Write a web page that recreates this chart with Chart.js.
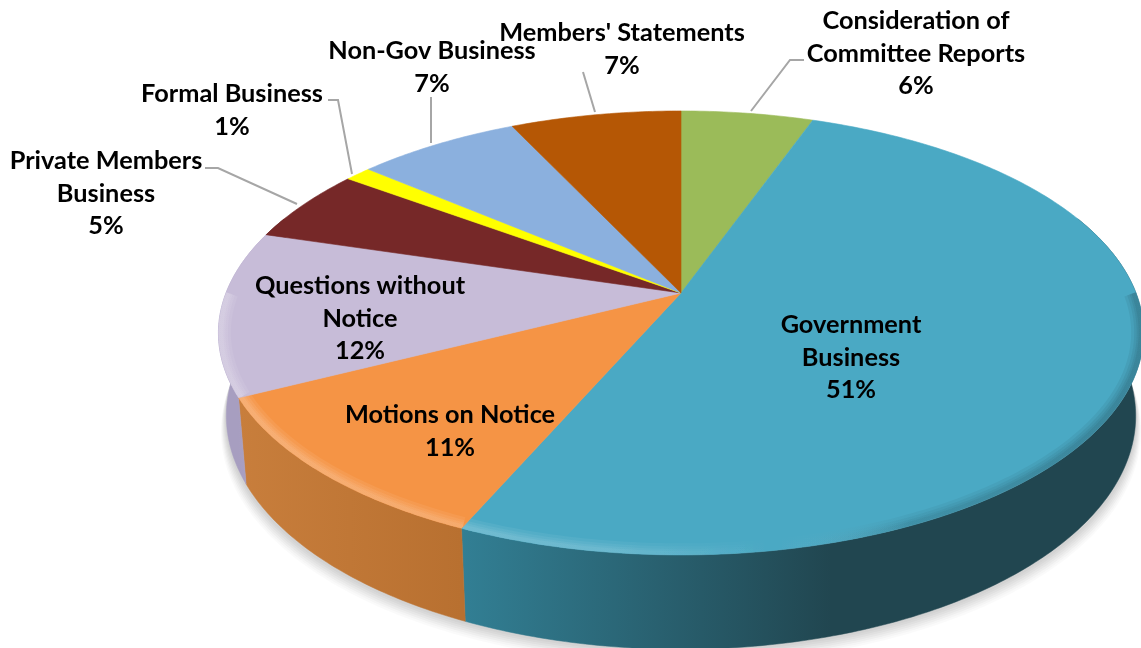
<!DOCTYPE html>
<html><head><meta charset="utf-8">
<style>html,body{margin:0;padding:0;background:#fff;overflow:hidden}canvas{display:block}</style>
<script src="https://cdn.jsdelivr.net/npm/chart.js@4"></script>
</head><body><canvas id="c" width="1141" height="648"></canvas>
<script>
const categories = ["Consideration of Committee Reports","Government Business","Motions on Notice","Questions without Notice","Private Members Business","Formal Business","Non-Gov Business","Members' Statements"];
const shares = [5.5,51.1,11,12,5.4,1.1,6.8,7.1];
const topColors = ["#9BBB59","#4AA9C4","#F59445","#C7BCD8","#762828","#FFFF00","#8BB0DE","#B55705"];
const wallStops = [["#7d984a","#7d984a"],["#327F94","#214650"],["#C87E3C","#B87030"],["#A79EC0","#ADA3C6"],["#5a2020","#5a2020"],["#cc0","#cc0"],["#7090b0","#7090b0"],["#8c4404","#8c4404"]];
const labelLines = [["Consideration of","Committee Reports","6%"],["Government","Business","51%"],["Motions on Notice","11%"],["Questions without","Notice","12%"],["Private Members","Business","5%"],["Formal Business","1%"],["Non-Gov Business","7%"],["Members' Statements","7%"]];
const labelX = [916,851,450,360,106,232,432,622];
const labelTop = [21,325,415,286,161,94,51,33];
const leaders = [[[804,60],[790,60],[751,111]],null,null,null,[[205,168],[218,168],[297,204]],[[328,100],[338,100],[352,174]],[[431,97],[431,143]],[[583,72],[595,112]]];

const RX=455, RY=214.8, K=0.18, H=81, S=0.983;
function proj(arc,a,bottom,f){
  f=f||1;
  const u=Math.cos(a)*f, v=Math.sin(a)*f, w=1-K*v;
  const s=bottom?S:1;
  return [arc.x+RX*u/w*s, arc.y+RY*v/w*s+(bottom?H/w:0)];
}
function tracePts(ctx,arc,a0,a1,bottom,first,f){
  const n=Math.max(2,Math.ceil(Math.abs(a1-a0)*80));
  for(let i=0;i<=n;i++){
    const p=proj(arc,a0+(a1-a0)*i/n,bottom,f);
    if(i===0&&first)ctx.moveTo(p[0],p[1]);else ctx.lineTo(p[0],p[1]);
  }
}
const threeD={
  id:'threeD',
  beforeDatasetsDraw(chart){
    const ctx=chart.ctx, arcs=chart.getDatasetMeta(0).data, a0=arcs[0];
    ctx.save();
    // soft shadow under the disc: several offset translucent rings
    ctx.save();
    [[15,0.02],[13,0.025],[11,0.03],[9,0.03],[7,0.03],[5,0.03],[3,0.03]].forEach(([d,al])=>{
      ctx.fillStyle='rgba(0,0,0,'+al+')';
      ctx.beginPath();
      const n=360;
      for(let i=0;i<=n;i++){
        const p=proj(a0,i/n*2*Math.PI,true);
        const x=p[0]+(p[0]-a0.x)*d*0.0008, y=p[1]+d;
        if(i===0)ctx.moveTo(x,y);else ctx.lineTo(x,y);
      }
      ctx.closePath();ctx.fill();
    });
    ctx.restore();
    // side walls
    const lo=-0.12*Math.PI, hi=1.12*Math.PI;
    arcs.forEach((arc,i)=>{
      let s=arc.startAngle,e=arc.endAngle;
      const ranges=[[s,e],[s+2*Math.PI,e+2*Math.PI],[s-2*Math.PI,e-2*Math.PI]];
      ranges.forEach(r=>{
        const a=Math.max(r[0],lo),b=Math.min(r[1],hi);
        if(b<=a)return;
        const p=proj(arc,a,false),q=proj(arc,b,false);
        const xl=Math.min(p[0],q[0]),xr=Math.max(p[0],q[0]);
        const g=ctx.createLinearGradient(xl,0,i===1?Math.min(xl+370,xr):xr,0);
        g.addColorStop(0,wallStops[i][0]);
        g.addColorStop(1,wallStops[i][1]);
        ctx.fillStyle=g;ctx.strokeStyle=g;ctx.lineWidth=0.5;
        ctx.beginPath();
        tracePts(ctx,arc,a,b,false,true);
        tracePts(ctx,arc,b,a,true,false);
        ctx.closePath();ctx.fill();ctx.stroke();
      });
    });
    // top face
    const rimLo=0, rimHi=Math.PI;
    arcs.forEach((arc,i)=>{
      const path=new Path2D();
      path.moveTo(arc.x,arc.y);
      const n=Math.ceil((arc.endAngle-arc.startAngle)*80);
      for(let j=0;j<=n;j++){
        const p=proj(arc,arc.startAngle+(arc.endAngle-arc.startAngle)*j/n,false);
        path.lineTo(p[0],p[1]);
      }
      path.closePath();
      ctx.fillStyle=topColors[i];ctx.strokeStyle=topColors[i];ctx.lineWidth=0.6;
      ctx.fill(path);ctx.stroke(path);
      // soft bevel along the front rim
      const a=Math.max(arc.startAngle,rimLo),b=Math.min(arc.endAngle,rimHi);
      if(b>a){
        const g=ctx.createLinearGradient(220,0,1141,0);
        g.addColorStop(0,'rgba(255,255,255,0.07)');
        g.addColorStop(0.42,'rgba(255,255,255,0.05)');
        g.addColorStop(0.6,'rgba(255,255,255,0)');
        g.addColorStop(0.75,'rgba(0,0,0,0.04)');
        g.addColorStop(1,'rgba(0,0,0,0.06)');
        ctx.save();ctx.clip(path);ctx.strokeStyle=g;
        [20,14,9,5].forEach(w=>{
          ctx.lineWidth=w;ctx.beginPath();tracePts(ctx,arc,a,b,false,true,0.995);ctx.stroke();
        });
        ctx.restore();
      }
    });
    // leader lines
    ctx.strokeStyle='#A6A6A6';ctx.lineWidth=2;
    leaders.forEach(l=>{
      if(!l)return;
      ctx.beginPath();l.forEach((p,j)=>j?ctx.lineTo(p[0],p[1]):ctx.moveTo(p[0],p[1]));ctx.stroke();
    });
    // labels
    ctx.fillStyle='#000';ctx.font='bold 25.3px Lato';ctx.textAlign='center';ctx.textBaseline='middle';
    labelLines.forEach((lines,i)=>{
      lines.forEach((t,j)=>ctx.fillText(t,labelX[i],labelTop[i]+j*32.5));
    });
    ctx.restore();
    return false;
  }
};
new Chart(document.getElementById('c'),{
  type:'pie',
  data:{labels:categories,datasets:[{data:shares,backgroundColor:topColors,borderWidth:0}]},
  options:{responsive:false,animation:false,devicePixelRatio:1,
    layout:{padding:{left:221,right:0,top:0,bottom:62}},
    plugins:{legend:{display:false},tooltip:{enabled:false},title:{display:false}}},
  plugins:[threeD]
});
</script></body></html>
